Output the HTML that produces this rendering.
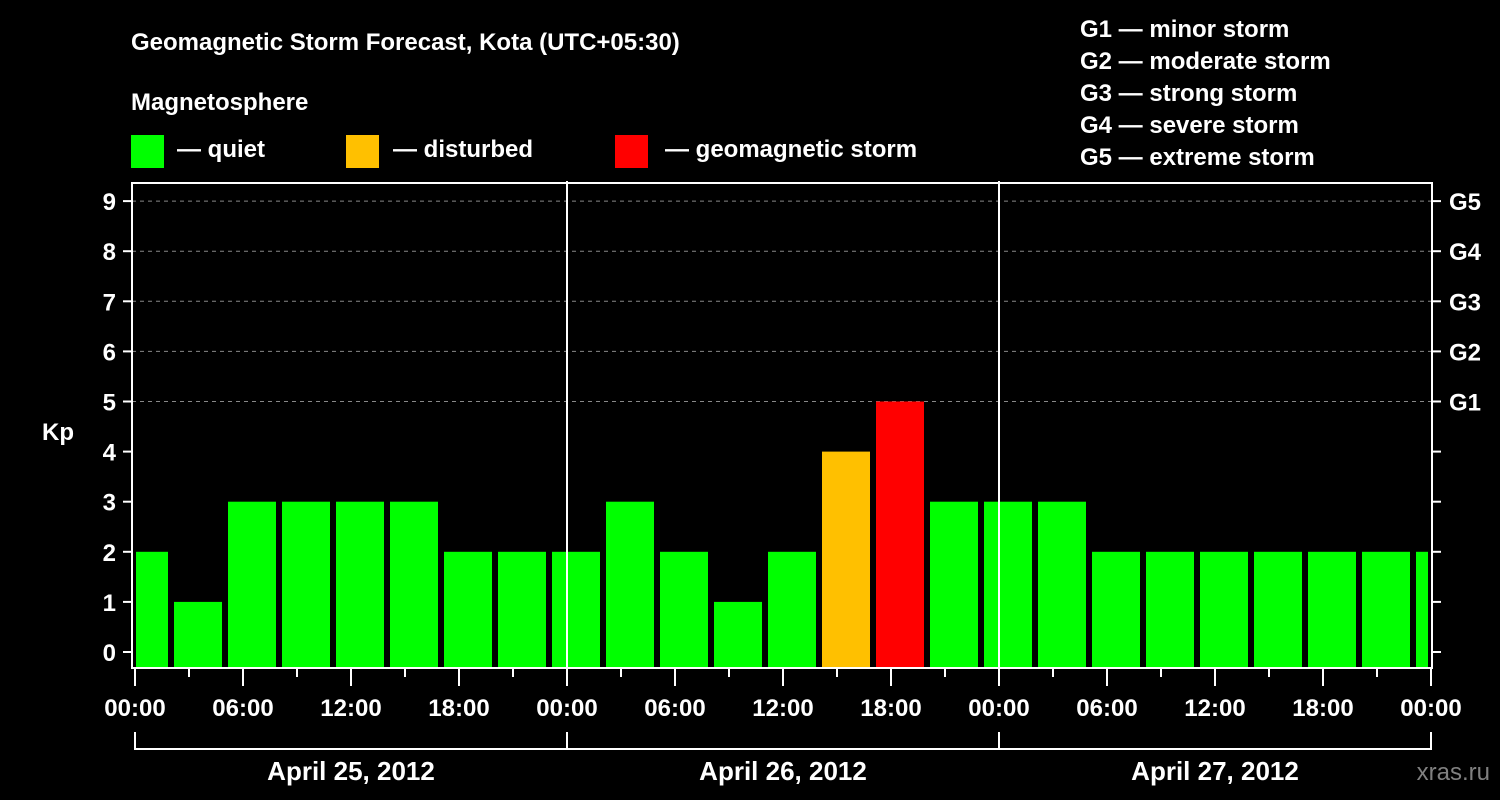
<!DOCTYPE html>
<html><head><meta charset="utf-8"><style>
html,body{margin:0;padding:0;background:#000;}
svg{display:block;font-family:"Liberation Sans",sans-serif;font-weight:bold;}
</style></head><body>
<svg id="chart" width="1500" height="800" viewBox="0 0 1500 800">
<rect width="1500" height="800" fill="#000"/>
<text x="131" y="50" font-size="24" fill="#fff">Geomagnetic Storm Forecast, Kota (UTC+05:30)</text>
<text x="131" y="110" font-size="24" fill="#fff">Magnetosphere</text>
<g><rect x="131" y="135" width="33" height="33" fill="#00ff00"/><text x="177" y="157" font-size="24" fill="#fff">— quiet</text></g>
<g><rect x="346" y="135" width="33" height="33" fill="#ffc000"/><text x="393" y="157" font-size="24" fill="#fff">— disturbed</text></g>
<g><rect x="615" y="135" width="33" height="33" fill="#ff0000"/><text x="665" y="157" font-size="24" fill="#fff">— geomagnetic storm</text></g>
<g font-size="24" fill="#fff">
<text x="1080" y="37">G1 — minor storm</text>
<text x="1080" y="69">G2 — moderate storm</text>
<text x="1080" y="101">G3 — strong storm</text>
<text x="1080" y="133">G4 — severe storm</text>
<text x="1080" y="165">G5 — extreme storm</text>
</g>
<text x="42" y="440" font-size="24" fill="#fff">Kp</text>
<g id="grid"></g>
<g id="bars"></g>
<g id="axes"></g>
<text x="1490" y="780" font-size="24" fill="#808080" text-anchor="end" font-weight="normal">xras.ru</text>
</svg>
<script>
const kpValues = [2,1,3,3,3,3,2,2, 2,3,2,1,2,4,5,3, 3,3,2,2,2,2,2,2, 2];
const slotStartHours = -1;
const slotHours = 3;
const yTicks = [0,1,2,3,4,5,6,7,8,9];
const gLabels = ["G1","G2","G3","G4","G5"];
const gLevels = [5,6,7,8,9];
const xTickLabels = ["00:00","06:00","12:00","18:00"];
const dayLabels = ["April 25, 2012","April 26, 2012","April 27, 2012"];

const NS="http://www.w3.org/2000/svg";
const L=132,R=1432,T=183,B=668;
const x0=135, pxPerHour=18;
const X=h=>x0+h*pxPerHour;
const Y=v=>652-v*50.1;
function mk(tag,attrs,parent){const e=document.createElementNS(NS,tag);for(const k in attrs)e.setAttribute(k,attrs[k]);parent.appendChild(e);return e;}
const grid=document.getElementById('grid'),bars=document.getElementById('bars'),axes=document.getElementById('axes');

yTicks.forEach(v=>{
  if(v>=5){const g=mk('line',{x1:L,x2:R,y1:Y(v),y2:Y(v),stroke:'#888','stroke-width':1,'stroke-dasharray':'4,4'},grid);
  
  }
  const t=mk('line',{x1:L-9,x2:L,y1:Y(v),y2:Y(v),stroke:'#fff','stroke-width':2},axes);
  
  
  const r=mk('line',{x1:R,x2:R+9,y1:Y(v),y2:Y(v),stroke:'#fff','stroke-width':2},axes);
  
  
  const lb=mk('text',{x:116,y:Y(v)+9,'font-size':24,fill:'#fff','text-anchor':'end'},axes);
  lb.textContent=v;
  
  
});
gLabels.forEach((g,i)=>{
  const t=mk('text',{x:1449,y:Y(gLevels[i])+9,'font-size':24,fill:'#fff'},axes);
  t.textContent=g;
  
  
});

const defs=mk('defs',{},bars);
const cp=mk('clipPath',{id:'plotclip'},defs);
mk('rect',{x:L+4,y:T,width:R-L-8,height:B-T},cp);
const bg=mk('g',{'clip-path':'url(#plotclip)'},bars);
kpValues.forEach((v,i)=>{
  const h0=slotStartHours+i*slotHours;
  const col=v>=5?'#ff0000':(v>=4?'#ffc000':'#00ff00');
  const r=mk('rect',{x:X(h0)+3,y:Y(v),width:slotHours*pxPerHour-6,height:B-Y(v),fill:col},bg);
  
  
});

// day separators
[1,2].forEach(d=>{
  const l=mk('line',{x1:X(24*d),x2:X(24*d),y1:T-2,y2:B,stroke:'#fff','stroke-width':2},axes);
  
  
});
const fr=mk('rect',{x:L,y:T,width:R-L,height:B-T,fill:'none',stroke:'#fff','stroke-width':2},axes);



for(let h=0;h<=72;h+=3){
  const major=h%6===0;
  const t=mk('line',{x1:X(h),x2:X(h),y1:B,y2:B+(major?18:9),stroke:'#fff','stroke-width':2},axes);
  
  
  if(major){
    const lb=mk('text',{x:X(h),y:716,'font-size':24,fill:'#fff','text-anchor':'middle'},axes);
    lb.textContent=xTickLabels[(h/6)%4];
    
    
  }
}
const br=mk('polyline',{points:`${X(0)},732 ${X(0)},749 ${X(72)},749 ${X(72)},732`,fill:'none',stroke:'#fff','stroke-width':2},axes);


dayLabels.forEach((d,i)=>{
  if(i>0){const s=mk('line',{x1:X(24*i),x2:X(24*i),y1:732,y2:749,stroke:'#fff','stroke-width':2},axes);
  
  }
  const t=mk('text',{x:X(24*i+12),y:780,'font-size':26,fill:'#fff','text-anchor':'middle'},axes);
  t.textContent=d;
  
  
});
</script>
</body></html>
